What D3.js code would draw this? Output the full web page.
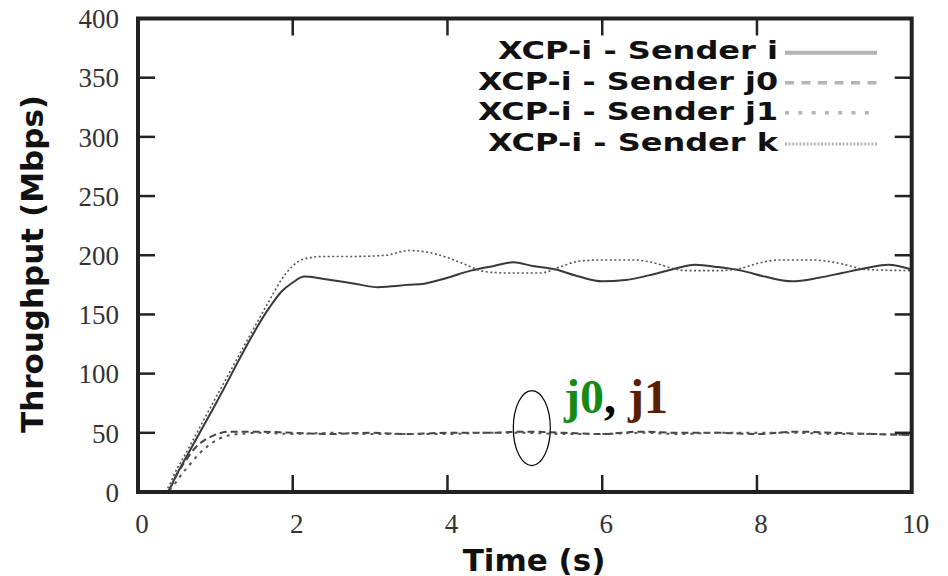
<!DOCTYPE html>
<html>
<head>
<meta charset="utf-8">
<script src="https://cdn.jsdelivr.net/npm/d3@7"></script>
<style>
  html, body { margin: 0; padding: 0; background: #fff; }
  svg { display: block; }
</style>
</head>
<body>
<svg id="chart" width="948" height="576"></svg>
<script>
// Throughput of each XCP-i sender over time (Mbps)
const senderITime = [0, 0.37, 0.5, 1.0, 1.7, 1.85, 2.0, 2.15, 2.4, 2.8, 3.1, 3.5, 3.7, 4.0, 4.3, 4.6, 4.85, 5.1, 5.4, 5.7, 6.0, 6.3, 6.6, 6.9, 7.2, 7.5, 7.8, 8.1, 8.45, 8.8, 9.1, 9.4, 9.7, 10];
const senderIValues = [0, 0, 15, 74, 156, 169, 177, 182, 180, 176, 173, 175, 176, 181, 187, 191, 194, 191, 188, 182, 178, 179, 183, 188, 192, 190, 187, 182, 178, 181, 185, 189, 192, 188];

const senderJ0Time = [0, 0.35, 0.55, 0.75, 0.95, 1.2, 1.5, 2.0, 2.5, 3.0, 3.5, 4.0, 4.5, 5.0, 5.5, 6.0, 6.5, 7.0, 7.5, 8.0, 8.5, 9.0, 9.5, 10];
const senderJ0Values = [0, 0, 20, 38, 47, 51, 51, 50, 49, 50, 49, 50, 50, 51, 50, 49, 51, 50, 50, 49, 51, 50, 49, 48];

const senderJ1Time = [0, 0.35, 0.6, 0.85, 1.05, 1.3, 1.6, 2.0, 2.5, 3.0, 3.5, 4.0, 4.5, 5.0, 5.5, 6.0, 6.5, 7.0, 7.5, 8.0, 8.5, 9.0, 9.5, 10];
const senderJ1Values = [0, 0, 18, 36, 45, 49, 50, 49, 50, 49, 49, 49, 50, 50, 49, 49, 50, 49, 50, 50, 50, 49, 49, 48];

const senderKTime = [0, 0.33, 0.5, 1.0, 1.7, 1.85, 2.0, 2.15, 2.4, 2.8, 3.2, 3.5, 3.7, 4.0, 4.2, 4.5, 4.8, 5.2, 5.45, 5.7, 6.0, 6.4, 6.7, 6.9, 7.1, 7.5, 7.8, 8.0, 8.3, 8.7, 9.0, 9.2, 9.4, 10];
const senderKValues = [0, 0, 19, 79, 162, 179, 191, 197, 199, 199, 200, 204, 203, 198, 193, 186, 185, 185, 190, 195, 196, 196, 193, 189, 187, 187, 189, 193, 196, 196, 194, 191, 188, 187];

const seriesNames = ["XCP-i - Sender i", "XCP-i - Sender j0", "XCP-i - Sender j1", "XCP-i - Sender k"];
const xTicks = [0, 2, 4, 6, 8, 10];
const yTicks = [0, 50, 100, 150, 200, 250, 300, 350, 400];

const svg = d3.select("#chart");
const plotLeft = 138, plotRight = 911.7, plotTop = 18.5, plotBottom = 492;

const x = d3.scaleLinear().domain([0, 10]).range([plotLeft, plotRight]);
const y = d3.scaleLinear().domain([0, 400]).range([plotBottom, plotTop]);

const frameColor = "#222";

// Series lines
const series = [
  { t: senderITime, v: senderIValues, stroke: "#383838", width: 2, dash: null },
  { t: senderJ0Time, v: senderJ0Values, stroke: "#444", width: 2, dash: "7,4" },
  { t: senderJ1Time, v: senderJ1Values, stroke: "#555", width: 2, dash: "3,5" },
  { t: senderKTime, v: senderKValues, stroke: "#555", width: 1.6, dash: "2,2.5" }
];

const line = d3.line()
  .x(d => x(d[0]))
  .y(d => y(d[1]))
  .curve(d3.curveMonotoneX);

const plot = svg.append("g");
series.forEach(s => {
  const pts = s.t.map((t, i) => [t, s.v[i]]);
  plot.append("path")
    .attr("d", line(pts))
    .attr("fill", "none")
    .attr("stroke", s.stroke)
    .attr("stroke-width", s.width)
    .attr("stroke-dasharray", s.dash);
});

// Ticks on all four sides, pointing inward
const tickLen = 17;
const tickG = svg.append("g").attr("stroke", frameColor).attr("stroke-width", 2.5);
yTicks.slice(1, -1).forEach(v => {
  tickG.append("line").attr("x1", plotLeft).attr("x2", plotLeft + tickLen).attr("y1", y(v)).attr("y2", y(v));
  tickG.append("line").attr("x1", plotRight).attr("x2", plotRight - tickLen).attr("y1", y(v)).attr("y2", y(v));
});
xTicks.slice(1, -1).forEach(v => {
  tickG.append("line").attr("x1", x(v)).attr("x2", x(v)).attr("y1", plotBottom).attr("y2", plotBottom - tickLen);
  tickG.append("line").attr("x1", x(v)).attr("x2", x(v)).attr("y1", plotTop).attr("y2", plotTop + tickLen);
});

// Frame
svg.append("rect")
  .attr("x", plotLeft).attr("y", plotTop)
  .attr("width", plotRight - plotLeft).attr("height", plotBottom - plotTop)
  .attr("fill", "none")
  .attr("stroke", frameColor)
  .attr("stroke-width", 4);

// Tick labels
const tickFont = "'Liberation Serif', 'Times New Roman', serif";
svg.append("g").selectAll("text").data(yTicks).join("text")
  .attr("x", 119).attr("y", d => y(d))
  .attr("dy", "0.36em")
  .attr("text-anchor", "end")
  .attr("font-family", tickFont)
  .attr("font-size", 27)
  .attr("fill", "#333")
  .text(d => d);

svg.append("g").selectAll("text").data(xTicks).join("text")
  .attr("x", d => x(d) + 4).attr("y", 533)
  .attr("text-anchor", "middle")
  .attr("font-family", tickFont)
  .attr("font-size", 27)
  .attr("fill", "#333")
  .text(d => d);

// Axis titles
const titleFont = "'DejaVu Sans', sans-serif";
svg.append("text")
  .attr("x", 534).attr("y", 570.5)
  .attr("text-anchor", "middle")
  .attr("font-family", titleFont)
  .attr("font-weight", "bold")
  .attr("font-size", 31)
  .attr("fill", "#111")
  .text("Time (s)");

svg.append("text")
  .attr("transform", "translate(43,264) rotate(-90)")
  .attr("text-anchor", "middle")
  .attr("font-family", titleFont)
  .attr("font-weight", "bold")
  .attr("font-size", 31)
  .attr("fill", "#111")
  .text("Throughput (Mbps)");

// Legend
const legendBase = [58.5, 89.5, 120, 151];
const legendLineY = [52.7, 82.7, 112.7, 144];
const legendWidths = [280, 300, 300, 290];
const legendStyles = [
  { dash: null, width: 4 },
  { dash: "9,7.5", width: 3.5 },
  { dash: "4,9.3", width: 3.5 },
  { dash: "2,1.6", width: 3 }
];
const legend = svg.append("g");
seriesNames.forEach((name, i) => {
  legend.append("text")
    .attr("x", 778).attr("y", legendBase[i])
    .attr("text-anchor", "end")
    .attr("font-family", titleFont)
    .attr("font-weight", "bold")
    .attr("font-size", 25)
    .attr("fill", "#111")
    .attr("textLength", legendWidths[i])
    .attr("lengthAdjust", "spacingAndGlyphs")
    .text(name);
  legend.append("line")
    .attr("x1", 785).attr("x2", 877)
    .attr("y1", legendLineY[i]).attr("y2", legendLineY[i])
    .attr("stroke", "#b4b4b4")
    .attr("stroke-width", legendStyles[i].width)
    .attr("stroke-dasharray", legendStyles[i].dash);
});

// Annotation marking the j0 / j1 flows
svg.append("ellipse")
  .attr("cx", x(5.09)).attr("cy", y(54))
  .attr("rx", 18.5).attr("ry", 37.5)
  .attr("fill", "none")
  .attr("stroke", "#000")
  .attr("stroke-width", 1.2);

const note = svg.append("text")
  .attr("x", 564).attr("y", 413)
  .attr("font-family", "'Liberation Serif', 'Times New Roman', serif")
  .attr("font-weight", "bold")
  .attr("font-size", 48);
note.append("tspan").attr("fill", "#168a16").text("j0");
note.append("tspan").attr("fill", "#000").text(", ");
note.append("tspan").attr("fill", "#5a1e05").text("j1");
</script>
</body>
</html>
